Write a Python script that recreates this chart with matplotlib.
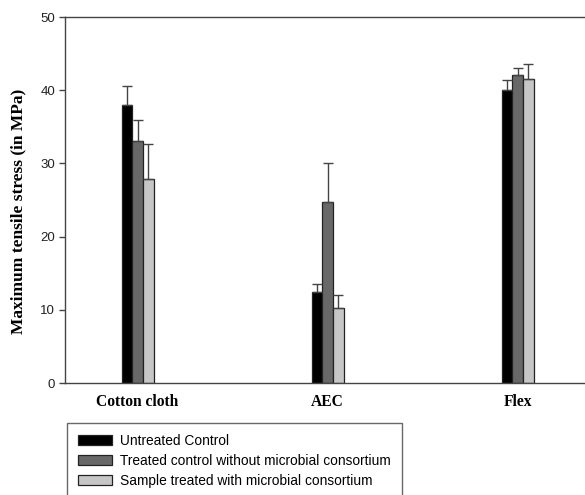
import matplotlib
matplotlib.use("Agg")
import matplotlib.pyplot as plt
import numpy as np

categories = ["Cotton cloth", "AEC", "Flex"]
series_names = ["Untreated Control",
                "Treated control without microbial consortium",
                "Sample treated with microbial consortium"]
untreated = [38.0, 12.5, 40.0]
untreated_err = [2.6, 1.0, 1.4]
treated_ctrl = [33.0, 24.7, 42.1]
treated_ctrl_err = [2.9, 5.3, 1.0]
sample = [27.9, 10.2, 41.5]
sample_err = [4.7, 1.8, 2.1]
colors = ["#000000", "#686868", "#c6c6c6"]

W, H = 585, 495
fig = plt.figure(figsize=(W / 100, H / 100), dpi=100)
ax = fig.add_axes([65 / W, (H - 383) / H, (600 - 65) / W, (383 - 17) / H])

x = np.arange(len(categories))
bw = 0.056
vals = [untreated, treated_ctrl, sample]
errs = [untreated_err, treated_ctrl_err, sample_err]
handles = []
for i, (v, e, c) in enumerate(zip(vals, errs, colors)):
    pos = x + (i - 1) * bw
    b = ax.bar(pos, v, width=bw, color=c, edgecolor="#222222", linewidth=0.9,
               yerr=[np.zeros(len(e)), e], capsize=3.8,
               error_kw=dict(ecolor="#444444", elinewidth=1.0, capthick=1.0),
               label=series_names[i], zorder=2)
    handles.append(b)

ax.set_xlim(-0.382, 2.434)
ax.set_ylim(0, 50)
ax.set_yticks([0, 10, 20, 30, 40, 50])
ax.set_xticks(x)
ax.set_xticklabels(categories, fontfamily="Liberation Serif", fontweight="bold", fontsize=11.2)
ax.tick_params(axis="x", length=0, pad=8)
ax.tick_params(axis="y", length=4, width=1, color="#444444", pad=3, labelsize=9.5,
               labelcolor="#222222")
for lab in ax.get_yticklabels():
    lab.set_fontfamily("Liberation Sans")
for sp in ax.spines.values():
    sp.set_color("#444444")
    sp.set_linewidth(1.0)

ax.set_ylabel("Maximum tensile stress (in MPa)", fontfamily="Liberation Serif",
              fontweight="bold", fontsize=12.5)
ax.yaxis.set_label_coords((26 - 65) / 535, 0.47)

leg = fig.legend(handles=handles, labels=series_names, loc="upper left",
                 bbox_to_anchor=(67 / W, 1 - 423 / H), frameon=True, fancybox=False,
                 prop=dict(family="Liberation Sans", size=9.9),
                 handlelength=2.5, handleheight=0.75, handletextpad=0.55,
                 labelspacing=0.42, borderpad=0.8, borderaxespad=0)
leg.get_frame().set_edgecolor("#444444")
leg.get_frame().set_linewidth(1.0)

fig.savefig("out.png", dpi=100)
